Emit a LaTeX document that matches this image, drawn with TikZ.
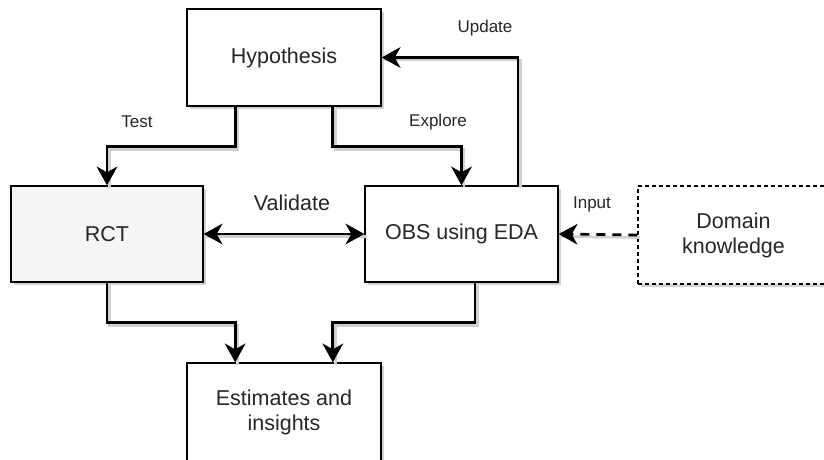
\documentclass[tikz,border=0pt]{standalone}
\usepackage{fontspec}
\setmainfont{Liberation Sans}
\usetikzlibrary{arrows.meta,calc,shadows}

\definecolor{txt}{HTML}{262626}
\definecolor{boxgray}{HTML}{F5F5F5}
\definecolor{shade}{HTML}{D0D0D0}

\tikzset{
  box/.style={draw=black, line width=1.3pt, fill=white, minimum width=194pt,
    minimum height=97pt, align=center, text=txt, inner sep=2pt,
    font=\fontsize{21.5}{25}\selectfont,
    drop shadow={shadow xshift=3pt, shadow yshift=-3pt, fill=black, opacity=0.18}},
  dashedbox/.style={box, dash pattern=on 4pt off 3pt},
  lbl/.style={text=txt, font=\fontsize{17}{20}\selectfont, inner sep=0pt},
  biglbl/.style={text=txt, font=\fontsize{21.5}{25}\selectfont, inner sep=0pt},
  headtip/.tip={Stealth[length=19pt, width=21pt, inset=6pt, line width=0pt]},
  conn/.style={draw=black, line width=2.7pt, line join=miter, -headtip,
    preaction={draw=shade, line width=2.7pt, -, transform canvas={shift={(2.5pt,-2.5pt)}}}},
  biconn/.style={conn, headtip-headtip},
  dashconn/.style={conn, dash pattern=on 9pt off 7pt}
}

\begin{document}
\begin{tikzpicture}[x=1pt, y=-1pt]
  \useasboundingbox (0,0) rectangle (824,460);
  \fill[white] (0,0) rectangle (824,460);

  % boxes
  \node[box] (hyp) at (284,57.5) {Hypothesis};
  \node[box, fill=boxgray, minimum width=192pt, minimum height=96pt] (rct) at (107,234) {RCT};
  \node[box, minimum width=193pt, minimum height=96pt] (obs) at (461.5,234) {OBS using EDA};
  \node[dashedbox, minimum width=191pt, minimum height=98pt] (dom) at (733.5,235) {Domain\\knowledge};
  \node[box, minimum height=98pt] (est) at (284,412) {Estimates and\\insights};

  % connectors
  \draw[conn] ($(hyp.south west)!0.25!(hyp.south east)$) -- ++(0,40) -| (rct.north);
  \draw[conn] ($(hyp.south west)!0.75!(hyp.south east)$) -- ++(0,40) -| (obs.north);
  \draw[conn] ($(obs.north west)!0.79!(obs.north east)$) |- (hyp.east);
  \draw[biconn] (rct.east) -- (obs.west);
  \draw[dashconn] (dom.west) -- (obs.east);
  \draw[conn] (rct.south) -- ++(0,40) -| ($(est.north west)!0.25!(est.north east)$);
  \draw[conn] ($(obs.south west)!0.57!(obs.south east)$) -- ++(0,40) -| ($(est.north west)!0.75!(est.north east)$);

  % labels
  \node[lbl] (ltest) at (137,122) {Test};
  \node[lbl] (lexplore) at (438,122) {Explore};
  \node[lbl] (lupdate) at (485,28) {Update};
  \node[lbl] (linput) at (592,204) {Input};
  \node[biglbl] (lvalidate) at (292,203) {Validate};
\end{tikzpicture}
\end{document}
